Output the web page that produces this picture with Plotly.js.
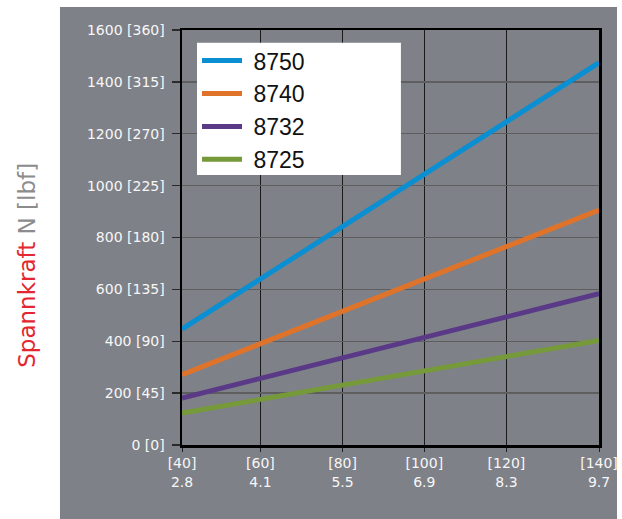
<!DOCTYPE html>
<html>
<head>
<meta charset="utf-8">
<script src="https://cdn.plot.ly/plotly-3.0.1.min.js"></script>
<style>html,body{margin:0;padding:0;background:#fff;}#chart{width:622px;height:519px;}</style>
</head>
<body>
<div id="chart"></div>
<script>
// ---- data ----
const seriesNames = ["8750", "8740", "8732", "8725"];
const xValues = [40, 140];
const y8750 = [447, 1474];
const y8740 = [271, 906];
const y8732 = [181, 583];
const y8725 = [123, 403];
const xTickVals = [40, 58.8, 78.5, 98.1, 117.8, 140];
const xTickText = ["[40]<br>2.8", "[60]<br>4.1", "[80]<br>5.5", "[100]<br>6.9", "[120]<br>8.3", "[140]<br>9.7"];
const yTickVals = [0, 200, 400, 600, 800, 1000, 1200, 1400, 1600];
const yTickText = ["0 [0]", "200 [45]", "400 [90]", "600 [135]", "800 [180]", "1000 [225]", "1200 [270]", "1400 [315]", "1600 [360]"];

const colors = ["#0a8fd2", "#e0732a", "#5a3a86", "#76993a"];
const seriesY = [y8750, y8740, y8732, y8725];

const traces = seriesNames.map((n, i) => ({
  type: "scatter", mode: "lines", name: "\u00a0" + n,
  x: xValues, y: seriesY[i],
  line: {color: colors[i], width: 5},
  hoverinfo: "skip"
}));

const tickFont = {family: "DejaVu Sans", size: 14, color: "#f7f7f7"};

const layout = {
  width: 622, height: 519,
  margin: {l: 182, r: 23, t: 30, b: 74, pad: 0},
  paper_bgcolor: "#ffffff",
  plot_bgcolor: "#e6e6e8",
  showlegend: true,
  legend: {
    x: 0.036, y: 0.978, xanchor: "left", yanchor: "top",
    bgcolor: "rgba(0,0,0,0)", borderwidth: 0,
    font: {family: "Liberation Sans", size: 23, color: "#111"},
    itemwidth: 40, tracegroupgap: 0
  },
  xaxis: {
    range: [40, 140], fixedrange: true,
    tickmode: "array", tickvals: xTickVals, ticktext: xTickText,
    tickfont: tickFont,
    showgrid: true, gridcolor: "#1a1a1a", gridwidth: 1,
    zeroline: false,
    showline: true, mirror: true, linecolor: "#000", linewidth: 2.5,
    ticks: "outside", ticklen: 4, tickcolor: "#222", tickwidth: 1
  },
  yaxis: {
    range: [0, 1600], fixedrange: true,
    tickmode: "array", tickvals: yTickVals, ticktext: yTickText,
    tickfont: tickFont,
    showgrid: true, gridcolor: "#5e5e5e", gridwidth: 1.3,
    zeroline: false,
    showline: true, mirror: true, linecolor: "#000", linewidth: 2.5,
    ticks: "outside", ticklen: 8, tickcolor: "#2a2a2a", tickwidth: 1.3,
    ticklabelstandoff: 4
  },
  shapes: [
    {type: "rect", xref: "paper", yref: "paper", layer: "below",
     x0: -0.2926, x1: 1.0432, y0: -0.2, y1: 1.0554,
     fillcolor: "#7f8188", line: {width: 0}},
    {type: "rect", xref: "paper", yref: "paper", layer: "above",
     x0: 0.036, x1: 0.525, y0: 0.6506, y1: 0.9694,
     fillcolor: "#ffffff", line: {width: 0}}
  ],
  annotations: [
    {xref: "paper", yref: "paper", x: -0.372, y: 0.434, textangle: -90,
     showarrow: false, xanchor: "center", yanchor: "middle",
     font: {family: "DejaVu Sans", size: 23},
     text: '<span style="color:#e3262f">Spannkraft</span> <span style="color:#8c8c8c">N [lbf]</span>'}
  ]
};

Plotly.newPlot("chart", traces, layout, {staticPlot: true, displayModeBar: false});
</script>
</body>
</html>
